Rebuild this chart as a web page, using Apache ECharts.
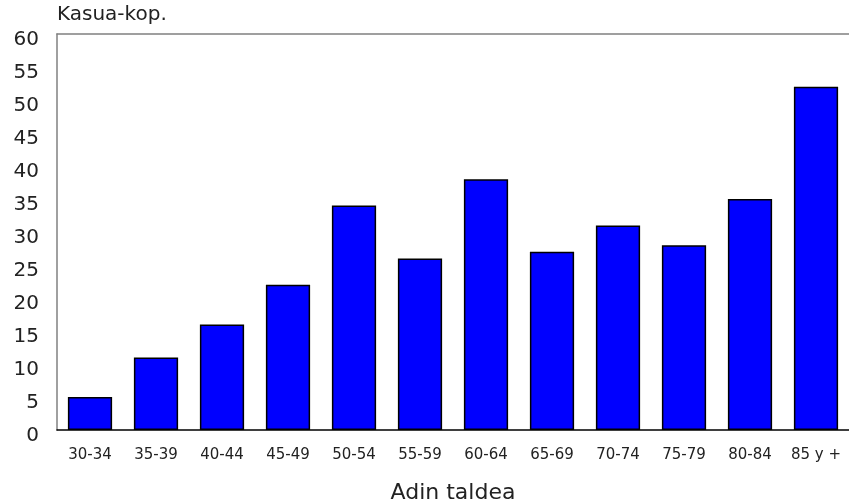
<!DOCTYPE html>
<html>
<head>
<meta charset="utf-8">
<script src="https://cdn.jsdelivr.net/npm/echarts@6/dist/echarts.min.js"></script>
<style>
  html, body { margin: 0; padding: 0; background: #fff; }
  #chart { width: 849px; height: 504px; }
</style>
</head>
<body>
<div id="chart"></div>
<script>
// Age groups and case counts
const categories = ['30-34', '35-39', '40-44', '45-49', '50-54', '55-59', '60-64', '65-69', '70-74', '75-79', '80-84', '85 y +'];
const cases = [5, 11, 16, 22, 34, 26, 38, 27, 31, 28, 35, 52];
const yTicks = { min: 0, max: 60, interval: 5 };

const FONT = '"DejaVu Sans", sans-serif';

const chart = echarts.init(document.getElementById('chart'), null, { renderer: 'canvas' });
chart.setOption({
  animation: false,
  backgroundColor: '#ffffff',
  title: {
    text: 'Kasua-kop.',
    left: 57,
    top: 5,
    padding: 0,
    textStyle: { color: '#222', fontFamily: FONT, fontSize: 20, fontWeight: 'normal' }
  },
  grid: { left: 57, top: 34, right: 0, bottom: 74, outerBoundsMode: 'none', containLabel: false },
  xAxis: [
    {
      type: 'category',
      data: categories,
      position: 'bottom',
      axisLine: { lineStyle: { color: '#000', width: 1.5 } },
      axisTick: { show: false },
      axisLabel: { color: '#222', fontFamily: FONT, fontSize: 15, margin: 18 },
      name: 'Adin taldea',
      nameLocation: 'middle',
      nameGap: 52,
      nameTextStyle: { color: '#222', fontFamily: FONT, fontSize: 22 }
    },
    {
      type: 'category',
      data: categories,
      position: 'top',
      axisLine: { lineStyle: { color: '#808080', width: 1.5 } },
      axisTick: { show: false },
      axisLabel: { show: false }
    }
  ],
  yAxis: {
    type: 'value',
    min: yTicks.min,
    max: yTicks.max,
    interval: yTicks.interval,
    axisLine: { show: true, lineStyle: { color: '#808080', width: 1.5 } },
    axisTick: { show: false },
    splitLine: { show: false },
    axisLabel: { color: '#222', fontFamily: FONT, fontSize: 20, margin: 18, verticalAlign: 'top', lineHeight: 12 }
  },
  series: [{
    type: 'bar',
    data: cases,
    barCategoryGap: '33%',
    itemStyle: { color: '#0000ff', borderColor: '#000', borderWidth: 1.5 }
  }]
});
</script>
</body>
</html>
